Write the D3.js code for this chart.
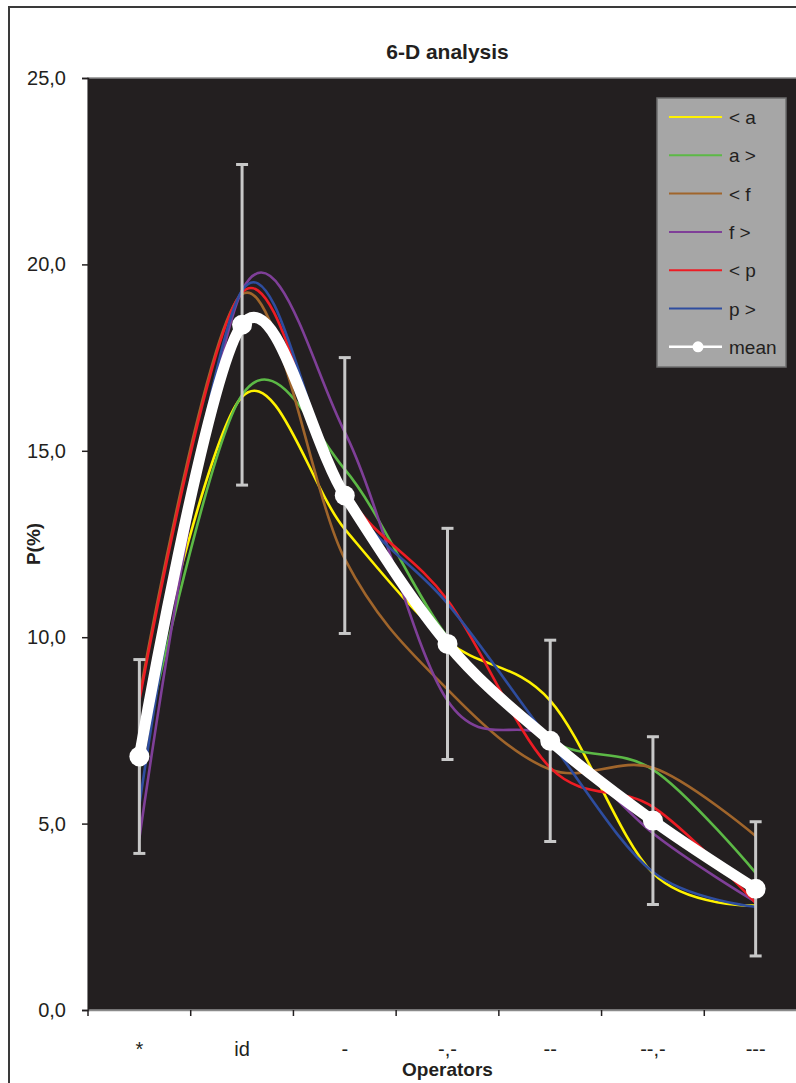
<!DOCTYPE html>
<html lang="en">
<head>
    <meta charset="UTF-8">
    <title>6-D analysis</title>
    <script src="https://d3js.org/d3.v7.min.js"></script>
    <style>
        body { margin: 0; background: #fff; }
        text { font-family: Arial, "Liberation Sans", sans-serif; fill: #231f20; }
    </style>
</head>
<body>
<script>
    // categories on the x axis
    const categories = ["*", "id", "-", "-,-", "--", "--,-", "---"]

    // the six series, one value per category (P in %)
    const seriesNames = ["< a", "a >", "< f", "f >", "< p", "p >"]
    const seriesColors = ["#fff200", "#5cb946", "#a0652b", "#7f3f98", "#ed1c24", "#2e4d9f"]
    const lessA = [7.3, 16.45, 12.9, 9.9, 8.3, 3.67, 2.8]
    const aMore = [6.45, 16.5, 14.5, 10.0, 7.25, 6.45, 3.68]
    const lessF = [8.4, 19.2, 12.1, 8.6, 6.45, 6.5, 4.67]
    const fMore = [4.6, 19.3, 15.5, 8.3, 7.3, 4.74, 2.9]
    const lessP = [8.3, 19.25, 13.9, 11.0, 6.5, 5.45, 2.87]
    const pMore = [5.5, 19.3, 13.8, 10.9, 7.2, 3.7, 2.77]

    // mean and its error bar half widths
    const meanValues = [6.8, 18.38, 13.8, 9.82, 7.22, 5.08, 3.25]
    const errorValues = [2.6, 4.3, 3.7, 3.1, 2.7, 2.25, 1.8]

    const yTicks = [0, 5, 10, 15, 20, 25]

    const allSeries = [lessA, aMore, lessF, fMore, lessP, pMore]

    const W = 796, H = 1083
    const plot = {left: 88, right: 807, top: 78, bottom: 1010}

    const svg = d3.select("body")
        .append("svg")
        .attr("width", W)
        .attr("height", H)

    // outer chart border
    svg.append("rect")
        .attr("x", 9).attr("y", 7)
        .attr("width", 820).attr("height", 1100)
        .attr("fill", "#fff")
        .attr("stroke", "#3a3a3a")
        .attr("stroke-width", 2)

    const x = d3.scaleBand()
        .domain(categories)
        .range([plot.left, plot.right])

    const y = d3.scaleLinear()
        .domain([0, 25])
        .range([plot.bottom, plot.top])

    const cx = c => x(c) + x.bandwidth() / 2

    // plot area
    svg.append("rect")
        .attr("x", plot.left).attr("y", plot.top)
        .attr("width", plot.right - plot.left)
        .attr("height", plot.bottom - plot.top)
        .attr("fill", "#231f20")
        .attr("stroke", "#8a8a8a")
        .attr("stroke-width", 1.5)

    // y axis
    const yAxis = svg.append("g")
        .attr("transform", `translate(${plot.left},0)`)
        .call(d3.axisLeft(y)
            .tickValues(yTicks)
            .tickSize(6)
            .tickPadding(16)
            .tickFormat(d => d3.format(".1f")(d).replace(".", ",")))
    yAxis.select(".domain").attr("stroke", "#231f20").attr("stroke-width", 1.5)
    yAxis.selectAll(".tick line").attr("stroke", "#231f20").attr("stroke-width", 1.5)
    yAxis.selectAll("text")
        .style("font-size", "20px")
        .attr("fill", "#231f20")

    // x axis: labels at band centres, ticks at band edges
    const xAxis = svg.append("g")
        .attr("transform", `translate(0,${plot.bottom})`)
        .call(d3.axisBottom(x).tickSize(0).tickSizeOuter(0))
    xAxis.select(".domain").attr("stroke", "#8a8a8a").attr("stroke-width", 1.5)
    xAxis.selectAll("text")
        .attr("y", 46)
        .attr("dy", 0)
        .style("font-size", "20px")
        .attr("fill", "#231f20")

    const edges = categories.map(c => x(c)).concat([x(categories[categories.length - 1]) + x.bandwidth()])
    svg.append("g")
        .selectAll("line")
        .data(edges)
        .join("line")
        .attr("x1", d => d).attr("x2", d => d)
        .attr("y1", plot.bottom).attr("y2", plot.bottom + 6)
        .attr("stroke", "#231f20")
        .attr("stroke-width", 1.5)

    // titles
    svg.append("text")
        .attr("x", (plot.left + plot.right) / 2)
        .attr("y", 59)
        .attr("text-anchor", "middle")
        .style("font-size", "21px")
        .style("font-weight", "bold")
        .text("6-D analysis")

    svg.append("text")
        .attr("x", (plot.left + plot.right) / 2)
        .attr("y", 1076)
        .attr("text-anchor", "middle")
        .style("font-size", "19px")
        .style("font-weight", "bold")
        .text("Operators")

    svg.append("text")
        .attr("transform", `translate(40,${(plot.top + plot.bottom) / 2}) rotate(-90)`)
        .attr("text-anchor", "middle")
        .style("font-size", "19px")
        .style("font-weight", "bold")
        .text("P(%)")

    // smoothed lines like the spreadsheet ones
    const line = d3.line()
        .x((d, i) => cx(categories[i]))
        .y(d => y(d))
        .curve(d3.curveCardinal.tension(0))

    svg.append("g")
        .selectAll("path")
        .data(allSeries)
        .join("path")
        .attr("d", d => line(d))
        .attr("fill", "none")
        .attr("stroke", (d, i) => seriesColors[i])
        .attr("stroke-width", 2.6)

    // error bars of the mean
    const bars = svg.append("g")
        .selectAll("g")
        .data(meanValues)
        .join("g")
        .attr("stroke", "#c8c8c8")
        .attr("stroke-width", 3)
    bars.append("line")
        .attr("x1", (d, i) => cx(categories[i]))
        .attr("x2", (d, i) => cx(categories[i]))
        .attr("y1", (d, i) => y(d - errorValues[i]))
        .attr("y2", (d, i) => y(d + errorValues[i]))
    bars.append("line")
        .attr("x1", (d, i) => cx(categories[i]) - 6)
        .attr("x2", (d, i) => cx(categories[i]) + 6)
        .attr("y1", (d, i) => y(d - errorValues[i]))
        .attr("y2", (d, i) => y(d - errorValues[i]))
    bars.append("line")
        .attr("x1", (d, i) => cx(categories[i]) - 6)
        .attr("x2", (d, i) => cx(categories[i]) + 6)
        .attr("y1", (d, i) => y(d + errorValues[i]))
        .attr("y2", (d, i) => y(d + errorValues[i]))

    // mean line
    svg.append("path")
        .attr("d", line(meanValues))
        .attr("fill", "none")
        .attr("stroke", "#fff")
        .attr("stroke-width", 11)
        .attr("stroke-linejoin", "round")

    svg.append("g")
        .selectAll("circle")
        .data(meanValues)
        .join("circle")
        .attr("cx", (d, i) => cx(categories[i]))
        .attr("cy", d => y(d))
        .attr("r", 10)
        .attr("fill", "#fff")

    // legend
    const legend = svg.append("g")
    legend.append("rect")
        .attr("x", 657).attr("y", 98)
        .attr("width", 129).attr("height", 269)
        .attr("fill", "#a6a6a6")
        .attr("stroke", "#6e6e6e")
        .attr("stroke-width", 1.5)

    const legendNames = seriesNames.concat(["mean"])
    const legendColors = seriesColors.concat(["#fff"])
    const rows = legend.selectAll("g.row")
        .data(legendNames)
        .join("g")
        .attr("class", "row")
        .attr("transform", (d, i) => `translate(0,${117 + i * 38.3})`)
    rows.append("line")
        .attr("x1", 669).attr("x2", 722)
        .attr("y1", 0).attr("y2", 0)
        .attr("stroke", (d, i) => legendColors[i])
        .attr("stroke-width", (d, i) => i === 6 ? 2.5 : 2)
    rows.filter((d, i) => i === 6)
        .append("circle")
        .attr("cx", 698).attr("cy", 0).attr("r", 5.5)
        .attr("fill", "#fff")
    rows.append("text")
        .attr("x", 729)
        .attr("y", 7)
        .style("font-size", "19px")
        .text(d => d)
</script>
</body>
</html>
